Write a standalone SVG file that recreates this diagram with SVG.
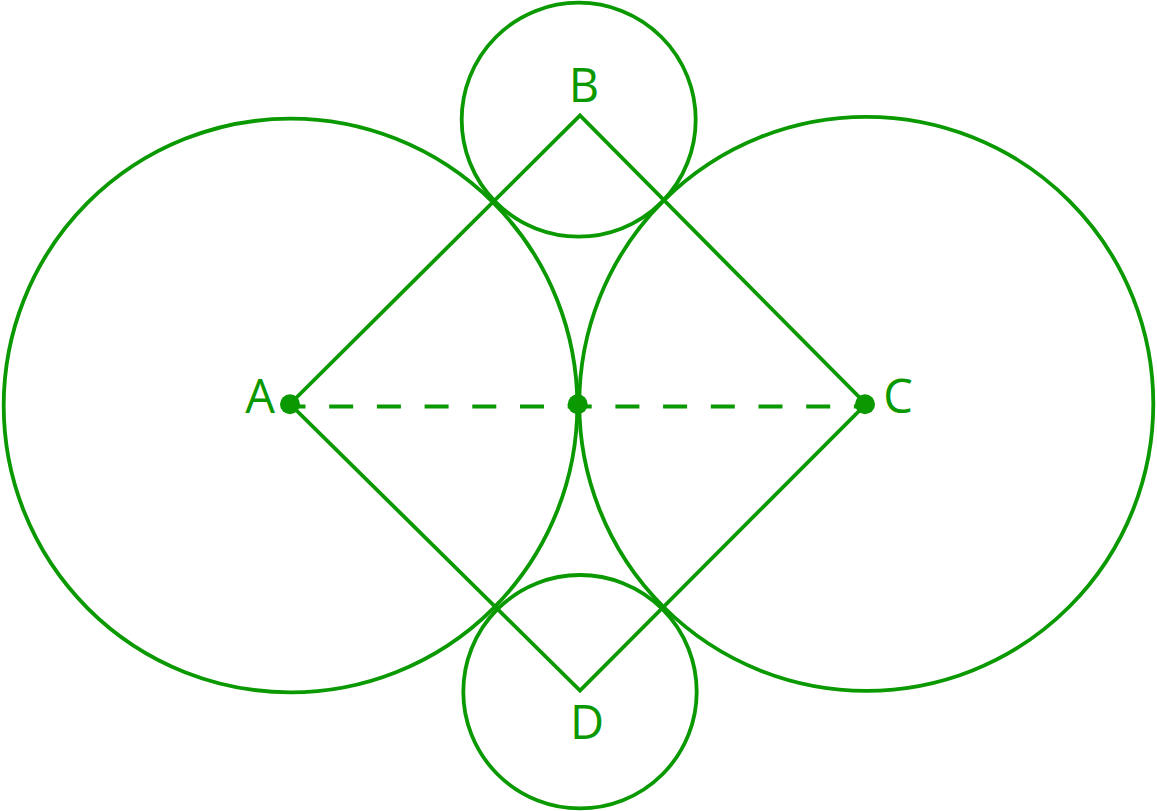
<svg xmlns="http://www.w3.org/2000/svg" width="1157" height="811" viewBox="0 0 1157 811">
<style>
.s{fill:none;stroke:#0a9900;stroke-width:3.8}
.d{fill:#0a9900}
.t{fill:#0a9900;font-family:"Open Sans","Noto Sans",sans-serif;font-size:47px;text-anchor:middle}
</style>
<rect width="1157" height="811" fill="#fff"/>
<g id="circleA"><circle class="s" cx="290.5" cy="405.5" r="286.8"/></g>
<g id="circleC"><circle class="s" cx="866.3" cy="403.8" r="287"/></g>
<g id="circleB"><circle class="s" cx="578.7" cy="119.7" r="117"/></g>
<g id="circleD"><circle class="s" cx="580" cy="691.7" r="116.7"/></g>
<g id="connectors">
<polygon class="s" points="290,404 580,115.5 866,404 580,690.5" stroke-linejoin="miter"/>
<line class="s" x1="281.5" y1="406.5" x2="866" y2="406.5" stroke-dasharray="24 23.7"/>
</g>
<g id="A"><circle class="d" cx="290" cy="404.3" r="10"/><text class="t" x="260" y="413.3">A</text></g>
<g id="M"><circle class="d" cx="577.7" cy="404.3" r="10"/></g>
<g id="C"><circle class="d" cx="865" cy="404.3" r="10"/><text class="t" x="898" y="413.3">C</text></g>
<g id="B"><text class="t" x="584" y="101.7">B</text></g>
<g id="D"><text class="t" x="587" y="739.3">D</text></g>
</svg>
